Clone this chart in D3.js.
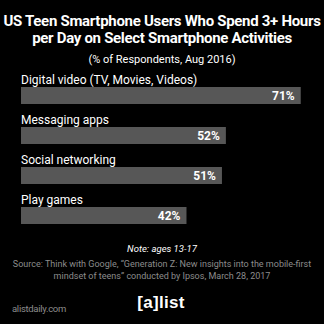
<!DOCTYPE html>
<html><head><meta charset="utf-8">
<script src="https://cdn.jsdelivr.net/npm/d3@7"></script>
<style>html,body{margin:0;padding:0;background:#000;}svg{display:block;}</style>
</head><body>
<script>
const categories = ["Digital video (TV, Movies, Videos)", "Messaging apps", "Social networking", "Play games"];
const values = [71, 52, 51, 42];
const titleLines = ["US Teen Smartphone Users Who Spend 3+ Hours", "per Day on Select Smartphone Activities"];
const subtitle = "(% of Respondents, Aug 2016)";
const note = "Note: ages 13-17";
const sourceLines = ["Source: Think with Google, \u201cGeneration Z: New insights into the mobile-first", "mindset of teens\u201d conducted by Ipsos, March 28, 2017"];

const W = 324, H = 324;
const font = "Roboto, 'DejaVu Sans', sans-serif";
const svg = d3.select("body").append("svg").attr("width", W).attr("height", H);
svg.append("rect").attr("width", W).attr("height", H).attr("fill", "#000");

// title
svg.selectAll("text.title").data(titleLines).join("text")
  .attr("class", "title")
  .attr("x", W / 2).attr("y", (d, i) => 26 + i * 17)
  .attr("text-anchor", "middle").attr("fill", "#fff")
  .attr("font-family", font).attr("font-weight", "bold").attr("font-size", 15)
  .attr("letter-spacing", -0.3)
  .text(d => d);
svg.append("text").attr("x", W / 2).attr("y", 63).attr("text-anchor", "middle")
  .attr("fill", "#fff").attr("font-family", font).attr("font-size", 11).text(subtitle);

const x = d3.scaleLinear().domain([0, 100]).range([21, 415]);
const y = d3.scalePoint().domain(categories).range([87, 207]);

const g = svg.append("g");
g.selectAll("rect.bar").data(categories).join("rect")
  .attr("class", "bar")
  .attr("x", x(0)).attr("y", d => y(d))
  .attr("width", (d, i) => x(values[i]) - x(0))
  .attr("height", 17)
  .attr("fill", "#575757");
g.selectAll("text.cat").data(categories).join("text")
  .attr("class", "cat")
  .attr("x", x(0)).attr("y", d => y(d) - 3)
  .attr("fill", "#fff").attr("font-family", font).attr("font-size", 12)
  .text(d => d);
g.selectAll("text.val").data(categories).join("text")
  .attr("class", "val")
  .attr("x", (d, i) => x(values[i]) - 6).attr("y", d => y(d) + 13)
  .attr("text-anchor", "end")
  .attr("fill", "#fff").attr("font-family", font).attr("font-weight", "bold").attr("font-size", 12)
  .text((d, i) => values[i] + "%");

svg.append("text").attr("x", W / 2).attr("y", 252).attr("text-anchor", "middle")
  .attr("fill", "#fff").attr("font-family", font).attr("font-style", "italic").attr("font-size", 9.5).text(note);
svg.selectAll("text.src").data(sourceLines).join("text")
  .attr("class", "src")
  .attr("x", W / 2).attr("y", (d, i) => 267 + i * 11.5)
  .attr("text-anchor", "middle").attr("fill", "#8c8c8c")
  .attr("font-family", font).attr("font-size", 9).text(d => d);

svg.append("text").attr("x", 12).attr("y", 312).attr("fill", "#8c8c8c")
  .attr("font-family", font).attr("font-size", 9.5).attr("letter-spacing", -0.3).text("alistdaily.com");
svg.append("text").attr("x", 161).attr("y", 308).attr("text-anchor", "middle").attr("fill", "#fff")
  .attr("font-family", "'Liberation Sans', Arial, sans-serif").attr("font-weight", "bold").attr("font-size", 17)
  .attr("letter-spacing", 0.3)
  .text("[a]list");
</script>
</body></html>
